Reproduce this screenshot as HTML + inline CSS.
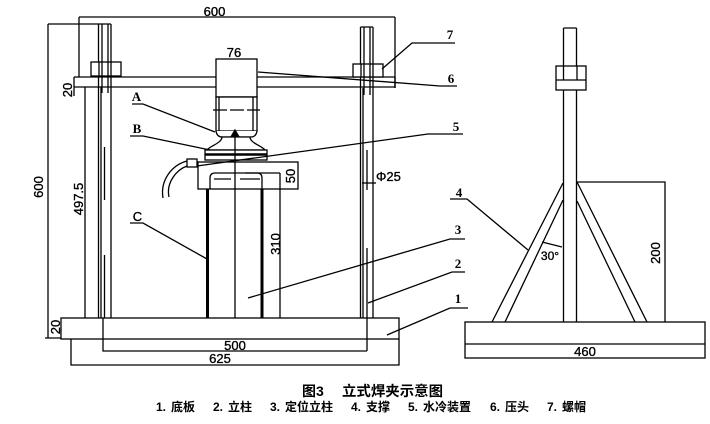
<!DOCTYPE html>
<html><head><meta charset="utf-8"><style>
html,body{margin:0;padding:0;background:#fff;}
svg{display:block;}
.d{font-family:"Liberation Sans",sans-serif;font-size:13px;fill:#000;stroke:#000;stroke-width:0.35;}
.l{font-family:"Liberation Serif",serif;font-size:13px;font-weight:bold;fill:#000;}
.c{font-family:"Liberation Sans","Noto Sans CJK SC",sans-serif;fill:#000;}
</style></head><body>
<svg width="710" height="424" viewBox="0 0 710 424" xmlns="http://www.w3.org/2000/svg">
<rect width="710" height="424" fill="#fff"/>
<g stroke="#000" stroke-width="1.3" fill="none">
<!-- LEFT VIEW base -->
<rect x="61" y="318" width="338" height="21"/>
<path d="M71 339 V365 H399 V339"/>
<path d="M103 318 V351 H367"/>
<!-- left dims -->
<path d="M48 24 H99 M48 24 V338 M45 338 H61"/>
<path d="M79 17 H395 M79 17 V77 M395 17 V88"/>
<path d="M74 77 V96"/>
<path d="M85 87 V318"/>
<!-- posts -->
<path d="M98.5 24 V318 M111 24 V318 M98.5 24 H111 M101 87 V318 M102 24 V93 M108 24 V93"/>
<path d="M104.5 147 V200 M104.5 255 V318"/>
<path d="M360.5 27 V318 M373 27 V318 M360.5 27 H373 M363 88 V318 M364 27 V95 M370 27 V95"/>
<path d="M367 150 V190 M367 248 V351"/>
<!-- crossbar -->
<path d="M74 77 H395 M74 87 H395 M395 77 V88"/>
<!-- nuts -->
<rect x="91" y="62" width="30" height="14" fill="#fff"/>
<path d="M99 62 V76 M111 62 V76 M102 62 V76 M108 62 V76"/>
<rect x="353" y="64" width="30" height="13" fill="#fff"/>
<path d="M361 64 V77 M373 64 V77 M364 64 V77 M370 64 V77"/>
<!-- press head -->
<rect x="216" y="59" width="41" height="38" fill="#fff"/>
<rect x="216" y="97" width="41" height="34" fill="#fff"/>
<path d="M219 97 V131 M253 97 V131"/>
<path d="M213 110 H260" stroke-dasharray="14 3"/>
<path d="M216 131 Q217 137 222 137 H251 Q256 137 257 131" fill="#fff"/>
<path d="M235 130 L231.5 136 H238.5 Z" fill="#000"/>
<path d="M222 137 C222 143 210 146 207 150 H265 C262 146 250 143 250 137 Z" fill="#fff"/>
<rect x="205" y="150" width="62" height="10" fill="#fff"/>
<path d="M205 154.5 H267" stroke-width="2.5"/>
<!-- cooling block -->
<rect x="198" y="162" width="100" height="27"/>
<path d="M188 162 H198"/>
<rect x="187" y="159" width="10" height="8" fill="#fff"/>
<path d="M187 161 C172 165 160 180 163 198"/>
<path d="M187 166 C176 170 166 183 169 197"/>
<path d="M210 189 V178 Q210 173 215 173 H257 Q262 173 262 178 V189"/>
<path d="M214 179 H231 M240 179 H260"/>
<path d="M245 173 H280 M280 173 V318"/>
<!-- column 3 -->
<path d="M207.5 189 V318 M262 189 V318" stroke-width="3"/>
<path d="M235 131 V318"/>
<!-- leaders -->
<path d="M132 104 H143 L215 132"/>
<path d="M130 136 H143 L210 150"/>
<path d="M130 223 H143 L207 259"/>
<path d="M463 134 H428 L197 166"/>
<path d="M457 86 H440 L258 72"/>
<path d="M455 43 H412 L382 69"/>
<path d="M450 199 H467 L528 250"/>
<path d="M465 239 H450 L248 298"/>
<path d="M465 272 H452 L368 303"/>
<path d="M468 308 H450 L387 335"/>
<path d="M362 183 H376"/>
<!-- RIGHT VIEW -->
<rect x="465" y="322" width="240" height="36"/>
<path d="M465 344 H705"/>
<path d="M563.5 28 V322 M576.5 28 V322 M563.5 28 H576.5"/>
<rect x="556" y="66" width="30" height="24" fill="#fff"/>
<path d="M556 80 H586 M563.5 66 V80 M577 66 V80"/>
<path d="M563 183 L492 322 M563 200 L505 322"/>
<path d="M577 182 L647 322 M577 201 L635 322"/>
<path d="M577 182 H665 V322"/>
<path d="M542 242 L562 247"/>
</g>
<!-- dimension texts -->
<text class="d" x="214.5" y="16" text-anchor="middle">600</text>
<text class="d" x="234" y="57" text-anchor="middle">76</text>
<text class="d" transform="translate(43,187) rotate(-90)" text-anchor="middle">600</text>
<text class="d" transform="translate(83,199) rotate(-90)" text-anchor="middle">497.5</text>
<text class="d" transform="translate(72,90) rotate(-90)" text-anchor="middle">20</text>
<text class="d" transform="translate(60,327) rotate(-90)" text-anchor="middle">20</text>
<text class="d" transform="translate(295,176) rotate(-90)" text-anchor="middle">50</text>
<text class="d" transform="translate(280,244) rotate(-90)" text-anchor="middle">310</text>
<text class="d" transform="translate(660,253) rotate(-90)" text-anchor="middle">200</text>
<text class="d" x="376" y="181">Φ25</text>
<text class="d" x="235" y="350" text-anchor="middle">500</text>
<text class="d" x="220" y="363" text-anchor="middle">625</text>
<text class="d" x="585" y="356" text-anchor="middle">460</text>
<text class="d" x="550" y="260" text-anchor="middle" style="font-size:12px">30°</text>
<!-- labels -->
<text class="l" x="136.5" y="101" text-anchor="middle">A</text>
<text class="l" x="137" y="133" text-anchor="middle">B</text>
<text class="d" x="137.5" y="221" text-anchor="middle">C</text>
<text class="l" x="450" y="39" text-anchor="middle">7</text>
<text class="l" x="451" y="83" text-anchor="middle">6</text>
<text class="l" x="456" y="131" text-anchor="middle">5</text>
<text class="l" x="459" y="197" text-anchor="middle">4</text>
<text class="l" x="458" y="234" text-anchor="middle">3</text>
<text class="l" x="458" y="268" text-anchor="middle">2</text>
<text class="l" x="458" y="303" text-anchor="middle">1</text>
<!-- caption -->
<text class="c" x="302" y="396" style="font-size:14px;font-weight:bold">图3</text>
<text class="c" x="342" y="396" style="font-size:14px;font-weight:bold" textLength="101" lengthAdjust="spacingAndGlyphs">立式焊夹示意图</text>
<g class="c" style="font-size:12px;font-weight:bold">
<text x="156" y="411">1.</text><text x="171" y="411">底板</text>
<text x="213" y="411">2.</text><text x="228" y="411">立柱</text>
<text x="270" y="411">3.</text><text x="285" y="411">定位立柱</text>
<text x="351" y="411">4.</text><text x="366" y="411">支撑</text>
<text x="408" y="411">5.</text><text x="423" y="411">水冷装置</text>
<text x="490" y="411">6.</text><text x="505" y="411">压头</text>
<text x="547" y="411">7.</text><text x="562" y="411">螺帽</text>
</g>
</svg>
</body></html>
